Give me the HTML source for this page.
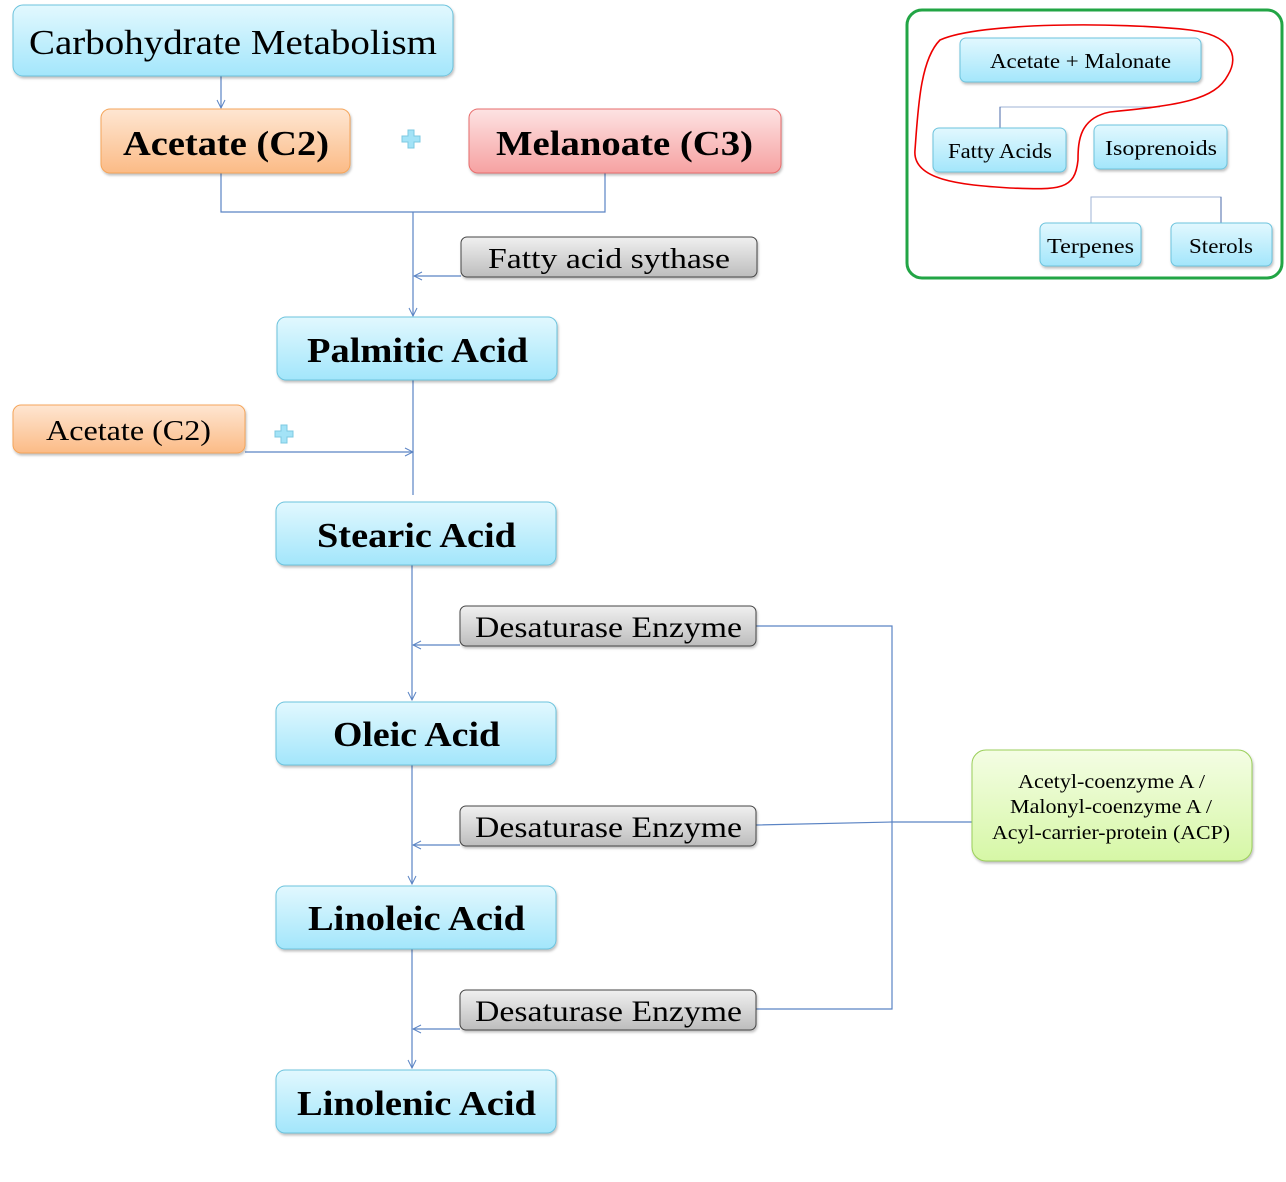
<!DOCTYPE html>
<html><head><meta charset="utf-8"><style>html,body{margin:0;padding:0;background:#fff}svg{display:block}</style></head>
<body>
<svg width="1286" height="1182" viewBox="0 0 1286 1182" xmlns="http://www.w3.org/2000/svg" font-family="Liberation Serif, serif">
<defs>
<linearGradient id="b" x1="0" y1="0" x2="0" y2="1"><stop offset="0" stop-color="#e2f8fe"/><stop offset="1" stop-color="#a3e6fb"/></linearGradient>
<linearGradient id="o" x1="0" y1="0" x2="0" y2="1"><stop offset="0" stop-color="#fee6d2"/><stop offset="1" stop-color="#fbbb86"/></linearGradient>
<linearGradient id="r" x1="0" y1="0" x2="0" y2="1"><stop offset="0" stop-color="#fde2e2"/><stop offset="1" stop-color="#f6a2a2"/></linearGradient>
<linearGradient id="g" x1="0" y1="0" x2="0" y2="1"><stop offset="0" stop-color="#f0f0f0"/><stop offset="1" stop-color="#bdbdbd"/></linearGradient>
<linearGradient id="gr" x1="0" y1="0" x2="0" y2="1"><stop offset="0" stop-color="#f4fde4"/><stop offset="1" stop-color="#d6f7a6"/></linearGradient>
<marker id="a" markerWidth="10" markerHeight="10" refX="9" refY="5" orient="auto" markerUnits="userSpaceOnUse"><path d="M1,1 L9,5 L1,9" fill="none" stroke="#5b84c4" stroke-width="1"/></marker>
<filter id="s" x="-5%" y="-10%" width="110%" height="130%"><feDropShadow dx="1" dy="2" stdDeviation="1.2" flood-color="#000" flood-opacity="0.25"/></filter>
</defs>
<g fill="none" stroke="#5b84c4" stroke-width="1.2">
<path d="M221,76 V108" marker-end="url(#a)"/>
<path d="M221,173 V212 H605 V173"/>
<path d="M413,212 V316" marker-end="url(#a)"/>
<path d="M461,276 H414" marker-end="url(#a)"/>
<path d="M413,380 V495"/>
<path d="M245,452 H413" marker-end="url(#a)"/>
<path d="M412,565 V700" marker-end="url(#a)"/>
<path d="M460,645 H413" marker-end="url(#a)"/>
<path d="M412,765 V884" marker-end="url(#a)"/>
<path d="M460,845 H413" marker-end="url(#a)"/>
<path d="M412,949 V1068" marker-end="url(#a)"/>
<path d="M460,1029 H413" marker-end="url(#a)"/>
<path d="M756,626 H892 V1009 H756"/>
<path d="M756,825 L892,822 H972"/>
</g>
<g filter="url(#s)">
<rect x="13" y="5" width="440" height="71" rx="10" fill="url(#b)" stroke="#6cc3dd"/>
<rect x="101" y="109" width="249" height="64" rx="9" fill="url(#o)" stroke="#f5a55a"/>
<rect x="469" y="109" width="312" height="64" rx="9" fill="url(#r)" stroke="#e86d6d"/>
<rect x="461" y="237" width="296" height="40" rx="6" fill="url(#g)" stroke="#444"/>
<rect x="277" y="317" width="280" height="63" rx="9" fill="url(#b)" stroke="#6cc3dd"/>
<rect x="13" y="405" width="232" height="48" rx="8" fill="url(#o)" stroke="#f5a55a"/>
<rect x="276" y="502" width="280" height="63" rx="9" fill="url(#b)" stroke="#6cc3dd"/>
<rect x="460" y="606" width="296" height="40" rx="6" fill="url(#g)" stroke="#444"/>
<rect x="276" y="702" width="280" height="63" rx="9" fill="url(#b)" stroke="#6cc3dd"/>
<rect x="460" y="806" width="296" height="40" rx="6" fill="url(#g)" stroke="#444"/>
<rect x="276" y="886" width="280" height="63" rx="9" fill="url(#b)" stroke="#6cc3dd"/>
<rect x="460" y="990" width="296" height="40" rx="6" fill="url(#g)" stroke="#444"/>
<rect x="276" y="1070" width="280" height="63" rx="9" fill="url(#b)" stroke="#6cc3dd"/>
<rect x="972" y="750" width="280" height="111" rx="14" fill="url(#gr)" stroke="#9bcf5a"/>
</g>
<g fill="#a3e3f7" stroke="#7cc8e0" stroke-width="1">
<path d="M408,130 h6 v6 h6 v6 h-6 v6 h-6 v-6 h-6 v-6 h6z"/>
<path d="M281,425 h6 v6 h6 v6 h-6 v6 h-6 v-6 h-6 v-6 h6z"/>
</g>
<g fill="#000" lengthAdjust="spacingAndGlyphs">
<text x="29" y="54" font-size="35" textLength="408" lengthAdjust="spacingAndGlyphs">Carbohydrate Metabolism</text>
<text x="123" y="155" font-size="35" font-weight="bold" textLength="206" lengthAdjust="spacingAndGlyphs">Acetate (C2)</text>
<text x="496" y="155" font-size="35" font-weight="bold" textLength="257" lengthAdjust="spacingAndGlyphs">Melanoate (C3)</text>
<text x="488" y="268" font-size="29" textLength="242" lengthAdjust="spacingAndGlyphs">Fatty acid sythase</text>
<text x="307" y="362" font-size="35" font-weight="bold" textLength="221" lengthAdjust="spacingAndGlyphs">Palmitic Acid</text>
<text x="46" y="440" font-size="29" textLength="165" lengthAdjust="spacingAndGlyphs">Acetate (C2)</text>
<text x="317" y="547" font-size="35" font-weight="bold" textLength="199" lengthAdjust="spacingAndGlyphs">Stearic Acid</text>
<text x="475" y="637" font-size="30" textLength="267" lengthAdjust="spacingAndGlyphs">Desaturase Enzyme</text>
<text x="333" y="746" font-size="35" font-weight="bold" textLength="167" lengthAdjust="spacingAndGlyphs">Oleic Acid</text>
<text x="475" y="837" font-size="30" textLength="267" lengthAdjust="spacingAndGlyphs">Desaturase Enzyme</text>
<text x="308" y="930" font-size="35" font-weight="bold" textLength="217" lengthAdjust="spacingAndGlyphs">Linoleic Acid</text>
<text x="475" y="1021" font-size="30" textLength="267" lengthAdjust="spacingAndGlyphs">Desaturase Enzyme</text>
<text x="297" y="1115" font-size="35" font-weight="bold" textLength="239" lengthAdjust="spacingAndGlyphs">Linolenic Acid</text>
<text x="1018" y="788" font-size="20" textLength="187" lengthAdjust="spacingAndGlyphs">Acetyl-coenzyme A /</text>
<text x="1010" y="813" font-size="20" textLength="202" lengthAdjust="spacingAndGlyphs">Malonyl-coenzyme A /</text>
<text x="992" y="839" font-size="20" textLength="238" lengthAdjust="spacingAndGlyphs">Acyl-carrier-protein (ACP)</text>
</g>
<!-- inset -->
<rect x="907" y="10" width="375" height="268" rx="15" fill="none" stroke="#22a545" stroke-width="3"/>
<g fill="none" stroke="#4a6aa8" stroke-width="1">
<path d="M1000,128 V107 H1160" stroke="#9fb3d6"/>
<path d="M1000,128 V107"/>
<path d="M1091,223 V197 H1221 V223" stroke="#9fb3d6"/>
<path d="M1221,197 V223"/>
</g>
<g filter="url(#s)" fill="url(#b)" stroke="#6cc3dd">
<rect x="960" y="38" width="241" height="44" rx="6"/>
<rect x="933" y="128" width="133" height="44" rx="6"/>
<rect x="1094" y="125" width="133" height="44" rx="6"/>
<rect x="1040" y="223" width="101" height="43" rx="6"/>
<rect x="1171" y="223" width="101" height="43" rx="6"/>
</g>
<g fill="#000">
<text x="990" y="68" font-size="21" textLength="181" lengthAdjust="spacingAndGlyphs">Acetate + Malonate</text>
<text x="948" y="158" font-size="21" textLength="104" lengthAdjust="spacingAndGlyphs">Fatty Acids</text>
<text x="1105" y="155" font-size="21" textLength="112" lengthAdjust="spacingAndGlyphs">Isoprenoids</text>
<text x="1047" y="253" font-size="21" textLength="87" lengthAdjust="spacingAndGlyphs">Terpenes</text>
<text x="1189" y="253" font-size="21" textLength="64" lengthAdjust="spacingAndGlyphs">Sterols</text>
</g>
<path d="M940,40 C980,22 1120,22 1190,30 C1230,35 1240,55 1228,75 C1215,100 1180,105 1110,112 C1080,118 1078,140 1078,160 C1075,190 1060,190 1010,188 C960,185 912,180 915,150 C918,110 920,60 940,40 Z" fill="none" stroke="#e00" stroke-width="1.6"/>
</svg>
</body></html>
